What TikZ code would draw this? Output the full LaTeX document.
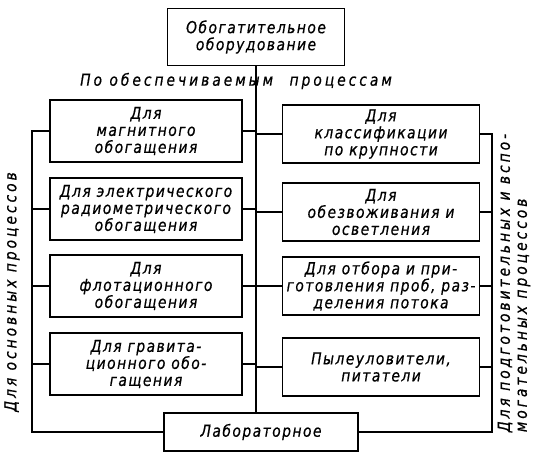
\documentclass[tikz,border=0pt]{standalone}
\usepackage{fontspec}
\setmainfont{DejaVu Sans}[FakeStretch=0.84,LetterSpace=9,FakeBold=0.6]
\newfontfamily\shirfont{DejaVu Sans}[FakeStretch=0.84,LetterSpace=18,FakeBold=0.6]
\usetikzlibrary{arrows}
\tikzstyle{blok}=[draw,line width=1.3pt,align=center,inner sep=1pt,font=\fontsize{16.5}{17}\selectfont\itshape]
\tikzstyle{lblok}=[blok,minimum width=192pt,minimum height=62pt]
\tikzstyle{rblok}=[blok,minimum width=197pt,minimum height=58pt]
\tikzstyle{svyaz}=[draw,line width=1.3pt]
\tikzstyle{nadpis}=[font=\shirfont\fontsize{16.5}{17}\selectfont\itshape,inner sep=0pt]

\begin{document}
\begin{tikzpicture}[x=1pt,y=-1pt]
				\useasboundingbox (0,0) rectangle (535,453);
				% First we draw the boxes
				\node[blok,minimum width=177pt,minimum height=57pt] (top) at (256,37) {Обогатительное\\оборудование};
				\node[blok,minimum width=194pt,minimum height=38pt] (lab) at (261,432) {Лабораторное};
				\foreach \pos/\name/\txt in {{(146,131)/l1/{Для\\магнитного\\обогащения}},
										{(146,209)/l2/{Для электрического\\радиометрического\\обогащения}},
										{(146,286)/l3/{Для\\флотационного\\обогащения}},
										{(146,364)/l4/{Для гравита-\\ционного обо-\\гащения}}}
				\node[lblok] (\name) at \pos {\txt};
				\foreach \pos/\name/\txt in {{(381,134)/r1/{Для\\классификации\\по крупности}},
										{(381,212)/r2/{Для\\обезвоживания и\\осветления}},
										{(381,286)/r3/{Для отбора и при-\\готовления проб, раз-\\деления потока}},
										{(381,367)/r4/{Пылеуловители,\\питатели}}}
				\node[rblok] (\name) at \pos {\txt};

				% Labels along the lines
				\node[nadpis] (proc) at (236,81) {По обеспечиваемым\quad процессам};
				\node[nadpis,rotate=90] (osn) at (12,292) {Для основных процессов};
				\node[nadpis,rotate=90,align=left] (vsp) at (514,283) {Для подготовительных и вспо-\\могательных процессов};

				% Connect boxes with lines
				\coordinate (lt) at (32,0);
				\coordinate (rt) at (492,0);
				\path[svyaz] (top.south) -- (top.south |- lab.north);
				\foreach \name in {l1,l2,l3,l4}
				\path[svyaz] (\name.east) -- (\name.east -| top.south);
				\foreach \name in {r1,r2,r3,r4}
				\path[svyaz] (\name.west) -- (\name.west -| top.south);
				\path[svyaz] (l1.west) -- (l1.west -| lt) |- (lab.west);
				\path[svyaz] (r1.east) -- (r1.east -| rt) |- (lab.east);
				\foreach \name in {l2,l3,l4}
				\path[svyaz] (\name.west) -- (\name.west -| lt);
				\foreach \name in {r2,r3,r4}
				\path[svyaz] (\name.east) -- (\name.east -| rt);

			\end{tikzpicture}
\end{document}
